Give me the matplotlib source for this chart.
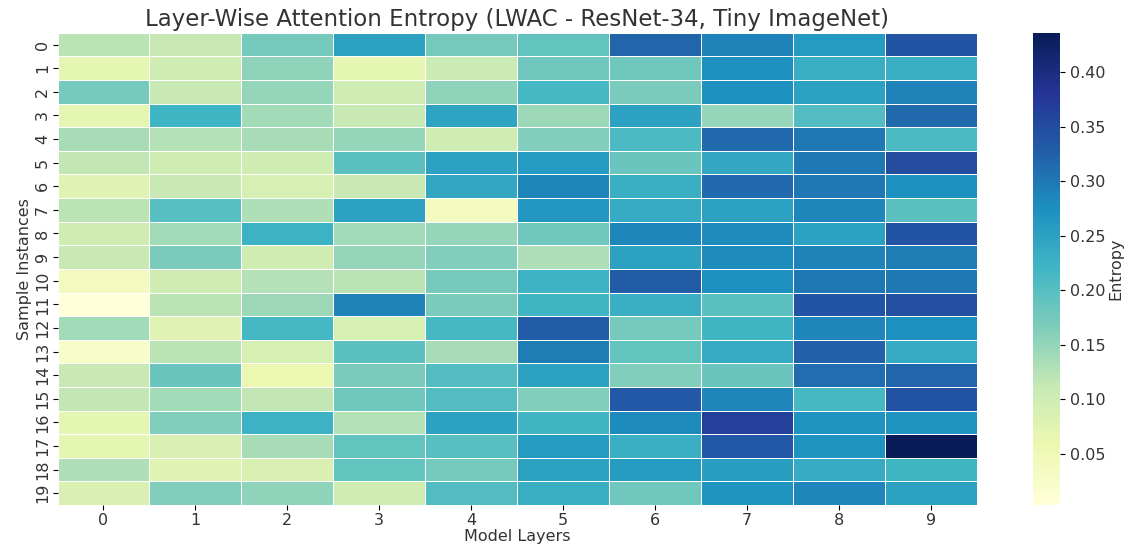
import numpy as np
import matplotlib.pyplot as plt
import seaborn as sns

# Entropia por camada (linhas = amostras, colunas = camadas)
layers = list(range(10))
samples = list(range(20))
entropy = np.array([
    [0.120, 0.110, 0.175, 0.250, 0.175, 0.190, 0.320, 0.290, 0.260, 0.340],
    [0.070, 0.100, 0.155, 0.070, 0.105, 0.180, 0.180, 0.275, 0.230, 0.230],
    [0.175, 0.110, 0.150, 0.100, 0.155, 0.215, 0.170, 0.275, 0.250, 0.290],
    [0.070, 0.220, 0.140, 0.110, 0.245, 0.145, 0.250, 0.150, 0.205, 0.315],
    [0.135, 0.125, 0.135, 0.150, 0.100, 0.165, 0.210, 0.315, 0.300, 0.210],
    [0.115, 0.100, 0.100, 0.195, 0.250, 0.260, 0.185, 0.240, 0.300, 0.350],
    [0.075, 0.110, 0.090, 0.110, 0.240, 0.285, 0.230, 0.315, 0.300, 0.275],
    [0.120, 0.200, 0.130, 0.250, 0.040, 0.265, 0.235, 0.250, 0.285, 0.195],
    [0.100, 0.140, 0.225, 0.140, 0.150, 0.180, 0.285, 0.280, 0.250, 0.340],
    [0.110, 0.170, 0.100, 0.150, 0.165, 0.130, 0.250, 0.280, 0.290, 0.295],
    [0.040, 0.100, 0.125, 0.120, 0.175, 0.225, 0.330, 0.275, 0.300, 0.300],
    [0.003, 0.120, 0.145, 0.290, 0.170, 0.220, 0.230, 0.195, 0.340, 0.345],
    [0.140, 0.075, 0.215, 0.090, 0.215, 0.330, 0.175, 0.220, 0.285, 0.275],
    [0.025, 0.120, 0.090, 0.195, 0.135, 0.295, 0.190, 0.235, 0.325, 0.235],
    [0.110, 0.185, 0.060, 0.170, 0.205, 0.250, 0.165, 0.185, 0.310, 0.320],
    [0.115, 0.140, 0.115, 0.180, 0.205, 0.165, 0.335, 0.285, 0.215, 0.340],
    [0.070, 0.165, 0.225, 0.125, 0.250, 0.220, 0.280, 0.365, 0.270, 0.270],
    [0.070, 0.085, 0.135, 0.190, 0.200, 0.260, 0.230, 0.335, 0.270, 0.436],
    [0.130, 0.075, 0.085, 0.190, 0.175, 0.250, 0.260, 0.255, 0.235, 0.220],
    [0.085, 0.165, 0.155, 0.100, 0.205, 0.230, 0.180, 0.270, 0.285, 0.250],
])

fig = plt.figure(figsize=(11.28, 5.46), dpi=100)
ax = fig.add_axes([0.051, 0.075, 0.815, 0.865])
cax = fig.add_axes([0.916, 0.075, 0.024, 0.865])

sns.heatmap(entropy, cmap='YlGnBu', linewidths=0.6, linecolor='white',
            xticklabels=layers, yticklabels=samples, ax=ax, cbar_ax=cax,
            cbar_kws={'label': 'Entropy'})

ax.set_title('Layer-Wise Attention Entropy (LWAC - ResNet-34, Tiny ImageNet)',
             fontsize=16.5, color='#333333', pad=5)
ax.set_xlabel('Model Layers', fontsize=11.5, color='#333333', labelpad=1)
ax.set_ylabel('Sample Instances', fontsize=11.5, color='#333333', labelpad=2)
ax.tick_params(axis='x', labelsize=11.5, labelcolor='#333333', pad=2)
ax.tick_params(axis='y', labelsize=11.5, labelcolor='#333333', labelrotation=90, pad=2)
cax.tick_params(labelsize=11.5, labelcolor='#333333')
cax.set_ylabel('Entropy', fontsize=11.5, color='#333333', labelpad=2)

plt.savefig('out.png', dpi=100)
